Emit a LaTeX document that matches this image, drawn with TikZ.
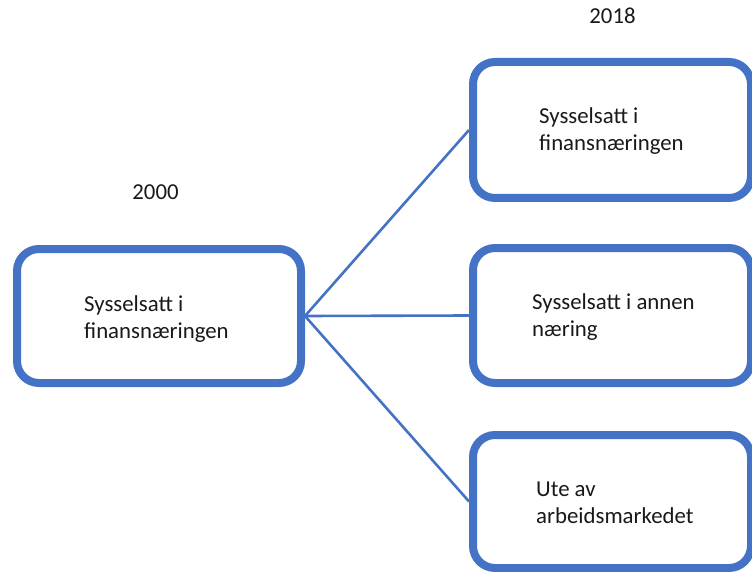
\documentclass[tikz,border=0pt]{standalone}
\usepackage{fontspec}
\setmainfont{Carlito}
\definecolor{boxblue}{HTML}{4472C4}
\begin{document}
\begin{tikzpicture}[x=1pt,y=-1pt,
  box/.style={draw=boxblue,line width=8pt,rounded corners=22pt,fill=white,minimum width=#1,inner sep=0pt},
  conn/.style={draw=boxblue,line width=2.6pt},
  lbl/.style={anchor=base west,inner sep=0pt,font=\fontsize{22.8}{28}\selectfont,text=black!90},
  year/.style={anchor=base,inner sep=0pt,font=\fontsize{22.8}{28}\selectfont,text=black!90}]
\useasboundingbox (0,0) rectangle (752,572);
\node[box=284pt,minimum height=134pt] (left) at (159,316) {};
\node[box=278pt,minimum height=136pt] (top) at (612,130) {};
\node[box=278pt,minimum height=135pt] (mid) at (612,315.5) {};
\node[box=278pt,minimum height=133pt] (bot) at (612,501.5) {};
\draw[conn] (left.east) -- (top.west);
\draw[conn] (left.east) -- (mid.west);
\draw[conn] (left.east) -- (bot.west);
\node[lbl] (l1) at (84,311) {Sysselsatt i};
\node[lbl] (l2) at (84,338) {finansnæringen};
\node[lbl] (t1) at (539,123.5) {Sysselsatt i};
\node[lbl] (t2) at (539,151) {finansnæringen};
\node[lbl] (m1) at (532,309) {Sysselsatt i annen};
\node[lbl] (m2) at (532,336) {næring};
\node[lbl] (b1) at (536,496) {Ute av};
\node[lbl] (b2) at (536,523) {arbeidsmarkedet};
\node[year] (y2000) at (155.5,199.3) {2000};
\node[year] (y2018) at (612.5,23.3) {2018};
\end{tikzpicture}
\end{document}
